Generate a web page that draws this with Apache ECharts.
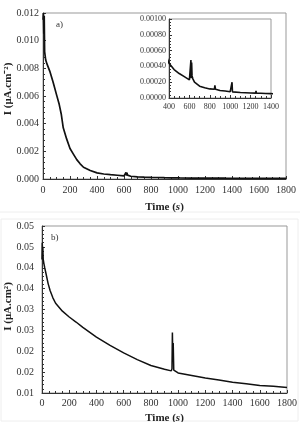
<!DOCTYPE html>
<html>
<head>
<meta charset="utf-8">
<script src="https://cdn.jsdelivr.net/npm/echarts@6/dist/echarts.min.js"></script>
<style>
    html, body { margin: 0; padding: 0; background: #fff; }
    #chart { width: 305px; height: 422px; }
</style>
</head>
<body>
<div id="chart"></div>
<script>
// a) corriente vs tiempo (la misma serie alimenta el grafico principal y el recuadro)
var tiempoA = [0, 3, 6, 9, 12, 16, 20, 30, 50, 75, 100, 120, 135, 150, 175, 200, 225, 250, 275, 300,
    350, 400, 450, 500, 550, 600, 612, 615, 618, 622, 626, 635, 650, 700, 750, 800, 845, 850, 856,
    900, 950, 1000, 1015, 1018, 1022, 1100, 1200, 1250, 1253, 1257, 1300, 1348, 1352, 1356, 1400,
    1500, 1600, 1700, 1800];
var corrienteA = [0.0115, 0.012, 0.0105, 0.0118, 0.0092, 0.0089, 0.0086, 0.0083, 0.0078, 0.0070,
    0.0061, 0.0054, 0.0047, 0.0037, 0.0029, 0.0022, 0.0018, 0.0014, 0.0011, 0.00085,
    0.00062, 0.00044, 0.00036, 0.00031, 0.00027, 0.00023, 0.00021, 0.00048, 0.00025, 0.00045,
    0.00028, 0.00024, 0.0002, 0.00015, 0.00013, 0.000115, 0.00011, 0.00016, 0.00011,
    0.000095, 0.000088, 0.00008, 0.000078, 0.0002, 0.000078, 0.00007, 0.000064, 0.000062,
    0.00009, 0.00006, 0.00006, 0.000057, 0.000078, 0.000056, 0.000055,
    0.00005, 0.000046, 0.000043, 0.00004];

// b) corriente vs tiempo
var tiempoB = [0, 2, 4, 6, 9, 14, 20, 30, 45, 60, 80, 100, 150, 200, 250, 300, 400, 500, 600, 700,
    800, 900, 950, 955, 958, 961, 964, 968, 980, 1000, 1100, 1200, 1300, 1400, 1500, 1600, 1700, 1800];
var corrienteB = [0.042, 0.046, 0.0435, 0.045, 0.042, 0.041, 0.0400, 0.0385, 0.0362, 0.0345, 0.0328,
    0.0315, 0.0296, 0.0282, 0.027, 0.0257, 0.0234, 0.0214, 0.0196, 0.018,
    0.0166, 0.0157, 0.0153, 0.0158, 0.0245, 0.0185, 0.022, 0.0155, 0.0151, 0.0148, 0.0142, 0.0136,
    0.0131, 0.0126, 0.0122, 0.0118, 0.0116, 0.0113];

var etiquetasYA = ['0.000', '0.002', '0.004', '0.006', '0.008', '0.010', '0.012'];
var etiquetasYInset = ['0.00000', '0.00020', '0.00040', '0.00060', '0.00080', '0.00100'];
var etiquetasYB = ['0.01', '0.02', '0.02', '0.03', '0.03', '0.04', '0.04', '0.05', '0.05'];

function pares(xs, ys) {
    var out = [];
    for (var i = 0; i < xs.length; i++) {
        out.push([xs[i], ys[i]]);
    }
    return out;
}

var fuente = 'Liberation Serif';
var colorTexto = '#333';

function ejeX(grid, min, max, intervalo, size, margen, nombre, gap) {
    return {
        type: 'value', gridIndex: grid, min: min, max: max, interval: intervalo,
        axisLine: { onZero: false, lineStyle: { color: '#333', width: 1 } },
        axisTick: { inside: true, length: 3, lineStyle: { color: '#333' } },
        minorTick: { show: true, splitNumber: 4, length: 2, lineStyle: { color: '#333' } },
        splitLine: { show: false },
        axisLabel: {
            color: colorTexto, fontFamily: fuente, fontSize: size, margin: margen,
            formatter: function (v) { return String(v); }
        },
        name: nombre,
        nameLocation: 'middle',
        nameGap: gap,
        nameMoveOverlap: false,
        nameTextStyle: {
            rich: {
                b: { fontFamily: fuente, fontSize: 11, fontWeight: 'bold', color: '#222' },
                i: { fontFamily: fuente, fontSize: 11, fontWeight: 'bold', fontStyle: 'italic', color: '#222' }
            }
        }
    };
}

function ejeY(grid, min, max, intervalo, etiquetas, size, margen, nombre, gap, relleno) {
    return {
        type: 'value', gridIndex: grid, min: min, max: max, interval: intervalo,
        axisLine: { onZero: false, lineStyle: { color: '#333', width: 1 } },
        axisTick: { inside: true, length: 3, lineStyle: { color: '#333' } },
        minorTick: { show: true, splitNumber: 5, length: 2, lineStyle: { color: '#333' } },
        splitLine: { show: false },
        axisLabel: {
            color: colorTexto, fontFamily: fuente, fontSize: size, margin: margen,
            formatter: function (v) {
                return etiquetas[Math.round((v - min) / intervalo)];
            }
        },
        name: nombre,
        nameLocation: 'middle',
        nameGap: gap,
        nameMoveOverlap: false,
        nameTextStyle: { fontFamily: fuente, fontSize: 11, fontWeight: 'bold', color: '#222', padding: relleno || 0 }
    };
}

var chart = echarts.init(document.getElementById('chart'));

chart.setOption({
    animation: false,
    backgroundColor: '#fff',
    grid: [
        { left: 43, top: 13, width: 243, height: 166, outerBoundsMode: 'none', containLabel: false, show: true, borderColor: '#999', borderWidth: 1 },
        { left: 169, top: 19, width: 102, height: 79, outerBoundsMode: 'none', containLabel: false, show: true, backgroundColor: '#fff', borderColor: '#999', borderWidth: 1 },
        { left: 42, top: 226, width: 245, height: 167, outerBoundsMode: 'none', containLabel: false, show: true, borderColor: '#999', borderWidth: 1 }
    ],
    xAxis: [
        ejeX(0, 0, 1800, 200, 10, 6, '{b|Time (}{i|s}{b|)}', 23),
        ejeX(1, 400, 1400, 200, 8, 5, '', 0),
        ejeX(2, 0, 1800, 200, 10, 5, '{b|Time (}{i|s}{b|)}', 20)
    ],
    yAxis: [
        ejeY(0, 0, 0.012, 0.002, etiquetasYA, 10, 4, 'I (μA.cm⁻²)', 29, [0, 0, 0, 14]),
        ejeY(1, 0, 0.001, 0.0002, etiquetasYInset, 8, 3, '', 0),
        ejeY(2, 0.01, 0.05, 0.005, etiquetasYB, 10, 8, 'I (μA.cm²)', 28, [0, 0, 0, 6])
    ],
    series: [{
        type: 'line', xAxisIndex: 0, yAxisIndex: 0, data: pares(tiempoA, corrienteA),
        showSymbol: false, clip: true, lineStyle: { color: '#111', width: 1.7 }
    }, {
        type: 'line', xAxisIndex: 1, yAxisIndex: 1, data: pares(tiempoA, corrienteA),
        showSymbol: false, clip: true, z: 5, lineStyle: { color: '#111', width: 1.6 }
    }, {
        type: 'line', xAxisIndex: 2, yAxisIndex: 2, data: pares(tiempoB, corrienteB),
        showSymbol: false, clip: true, lineStyle: { color: '#111', width: 1.5 }
    }],
    graphic: [
        { type: 'text', left: 56, top: 20, style: { text: 'a)', font: '9px "Liberation Serif"', fill: '#333' } },
        { type: 'text', left: 51, top: 233, style: { text: 'b)', font: '9px "Liberation Serif"', fill: '#333' } },
        { type: 'line', shape: { x1: 0, y1: 212, x2: 300, y2: 212 }, style: { stroke: '#eee', lineWidth: 1 } },
        { type: 'rect', shape: { x: 1, y: 219, width: 297, height: 202 }, style: { fill: 'none', stroke: '#eee', lineWidth: 1 }, z: -1 }
    ]
});
</script>
</body>
</html>
